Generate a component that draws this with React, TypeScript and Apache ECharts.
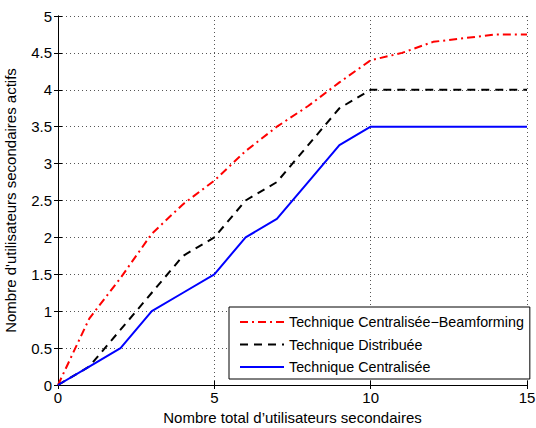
import React, { useEffect, useRef } from "react";
import * as echarts from "echarts";

const xValues = [0, 1, 2, 3, 4, 5, 6, 7, 8, 9, 10, 11, 12, 13, 14, 15];
const beamforming = [0, 0.9, 1.45, 2.05, 2.45, 2.77, 3.17, 3.5, 3.78, 4.1, 4.4, 4.5, 4.65, 4.7, 4.75, 4.75];
const distribuee = [0, 0.25, 0.75, 1.25, 1.75, 2.0, 2.5, 2.75, 3.25, 3.75, 4.0, 4.0, 4.0, 4.0, 4.0, 4.0];
const centralisee = [0, 0.25, 0.5, 1.0, 1.25, 1.5, 2.0, 2.25, 2.75, 3.25, 3.5, 3.5, 3.5, 3.5, 3.5, 3.5];
const seriesNames = [
  "Technique Centralisée\u2212Beamforming",
  "Technique Distribuée",
  "Technique Centralisée",
];
const xLabel = "Nombre total d\u2019utilisateurs secondaires";
const yLabel = "Nombre d'utilisateurs secondaires actifs";

const FONT = "'Liberation Sans', Arial, sans-serif";

export default function App() {
  const ref = useRef<HTMLDivElement>(null);
  useEffect(() => {
    if (!ref.current) return;
    const chart = echarts.init(ref.current, null, { renderer: "svg" });
    const pair = (ys: number[]) => xValues.map((x, i) => [x, ys[i]]);
    const axisCommon = {
      type: "value" as const,
      axisLine: { show: true, lineStyle: { color: "#000", width: 1 } },
      axisTick: { show: true, inside: true, length: 4, lineStyle: { color: "#000" } },
    };
    chart.setOption({
      animation: false,
      backgroundColor: "#fff",
      textStyle: { fontFamily: FONT },
      grid: { left: 58, right: 9, top: 16, bottom: 43, show: false, containLabel: false, outerBoundsMode: "none" },
      legend: {
        orient: "vertical",
        left: 229,
        top: 307,
        itemWidth: 44,
        itemHeight: 14,
        itemGap: 8.5,
        padding: [8, 6, 5, 10],
        borderColor: "#000",
        borderWidth: 1,
        backgroundColor: "#fff",
        itemStyle: { opacity: 0 },
        textStyle: { fontFamily: FONT, fontSize: 14.3, color: "#000", lineHeight: 14 },
        data: seriesNames,
      },
      xAxis: [
        {
          ...axisCommon,
          min: 0,
          max: 15,
          interval: 5,
          name: xLabel,
          nameLocation: "middle",
          nameGap: 24,
          nameTextStyle: { fontFamily: FONT, fontSize: 15, color: "#000" },
          axisLabel: { fontFamily: FONT, fontSize: 15, color: "#000", margin: 5 },
          splitLine: { show: true, lineStyle: { color: "#555", type: [1, 3], width: 1 } },
        },
        {
          ...axisCommon,
          position: "top",
          min: 0,
          max: 15,
          interval: 5,
          axisLabel: { show: false },
          splitLine: { show: false },
        },
      ],
      yAxis: [
        {
          ...axisCommon,
          min: 0,
          max: 5,
          interval: 0.5,
          name: yLabel,
          nameLocation: "middle",
          nameGap: 40,
          nameTextStyle: { fontFamily: FONT, fontSize: 15, color: "#000" },
          axisLabel: { fontFamily: FONT, fontSize: 15, color: "#000", margin: 6 },
          splitLine: { show: true, lineStyle: { color: "#555", type: [1, 3], width: 1 } },
        },
        {
          ...axisCommon,
          position: "right",
          min: 0,
          max: 5,
          interval: 0.5,
          axisLabel: { show: false },
          splitLine: { show: false },
        },
      ],
      series: [
        {
          name: seriesNames[0],
          type: "line",
          data: pair(beamforming),
          symbol: "none",
          lineStyle: { color: "#ff0000", width: 2, type: [8, 4, 2, 4] },
          itemStyle: { color: "#ff0000" },
          z: 3,
        },
        {
          name: seriesNames[1],
          type: "line",
          data: pair(distribuee),
          symbol: "none",
          lineStyle: { color: "#000", width: 2, type: [8, 6] },
          itemStyle: { color: "#000" },
          z: 3,
        },
        {
          name: seriesNames[2],
          type: "line",
          data: pair(centralisee),
          symbol: "none",
          lineStyle: { color: "#0000ff", width: 2, type: "solid" },
          itemStyle: { color: "#0000ff" },
          z: 3,
        },
      ],
    });
    return () => chart.dispose();
  }, []);
  return <div ref={ref} style={{ width: 536, height: 428, position: "absolute", left: 0, top: 0 }} />;
}
